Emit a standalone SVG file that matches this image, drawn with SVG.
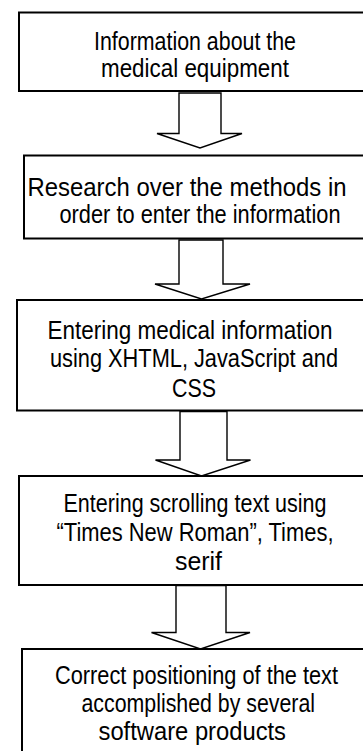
<svg xmlns="http://www.w3.org/2000/svg" width="363" height="751" viewBox="0 0 363 751">
<style>
.box{fill:#fff;stroke:#000;stroke-width:2}
.arr{fill:#fff;stroke:#000;stroke-width:1.4;stroke-linejoin:miter}
text{font-family:"Liberation Sans Narrow","Arial Narrow","Liberation Sans",sans-serif;font-size:25px;fill:#000}
</style>
<rect width="363" height="751" fill="#fff"/>
<g id="connectors">
<polygon class="arr" points="179,93 221,93 221,133.5 242,133.5 200,148 157,133.5 179,133.5"/>
<polygon class="arr" points="179,240 223,240 223,284 250,284 201.5,299 155,284 179,284"/>
<polygon class="arr" points="180,411.5 227,411.5 227,460 250.5,460 201.5,476 155.5,460 180,460"/>
<polygon class="arr" points="176,585.5 226,585.5 226,632.5 250,632.5 200.5,649 151.5,632.5 176,632.5"/>
</g>
<g id="n1">
<rect class="box" x="19" y="12.5" width="380" height="78.5"/>
<text x="94" y="49.5" textLength="202" lengthAdjust="spacingAndGlyphs">Information about the</text>
<text x="101" y="77" textLength="188" lengthAdjust="spacingAndGlyphs">medical equipment</text>
</g>
<g id="n2">
<rect class="box" x="24" y="155.5" width="380" height="83"/>
<text x="27.5" y="196" textLength="319" lengthAdjust="spacingAndGlyphs">Research over the methods in</text>
<text x="59.5" y="223" textLength="281" lengthAdjust="spacingAndGlyphs">order to enter the information</text>
</g>
<g id="n3">
<rect class="box" x="17" y="300" width="380" height="110.5"/>
<text x="47.5" y="338.5" textLength="285" lengthAdjust="spacingAndGlyphs">Entering medical information</text>
<text x="50" y="367" textLength="288" lengthAdjust="spacingAndGlyphs">using XHTML, JavaScript and</text>
<text x="172" y="396.5" textLength="44" lengthAdjust="spacingAndGlyphs">CSS</text>
</g>
<g id="n4">
<rect class="box" x="19" y="476" width="380" height="109"/>
<text x="63.5" y="512" textLength="263" lengthAdjust="spacingAndGlyphs">Entering scrolling text using</text>
<text x="56.5" y="541" textLength="277" lengthAdjust="spacingAndGlyphs">“Times New Roman”, Times,</text>
<text x="175" y="569.5" textLength="47" lengthAdjust="spacingAndGlyphs">serif</text>
</g>
<g id="n5">
<rect class="box" x="22" y="649" width="380" height="120"/>
<text x="55" y="683.5" textLength="283" lengthAdjust="spacingAndGlyphs">Correct positioning of the text</text>
<text x="81.5" y="712" textLength="233.5" lengthAdjust="spacingAndGlyphs">accomplished by several</text>
<text x="98.5" y="740" textLength="187.5" lengthAdjust="spacingAndGlyphs">software products</text>
</g>
</svg>
